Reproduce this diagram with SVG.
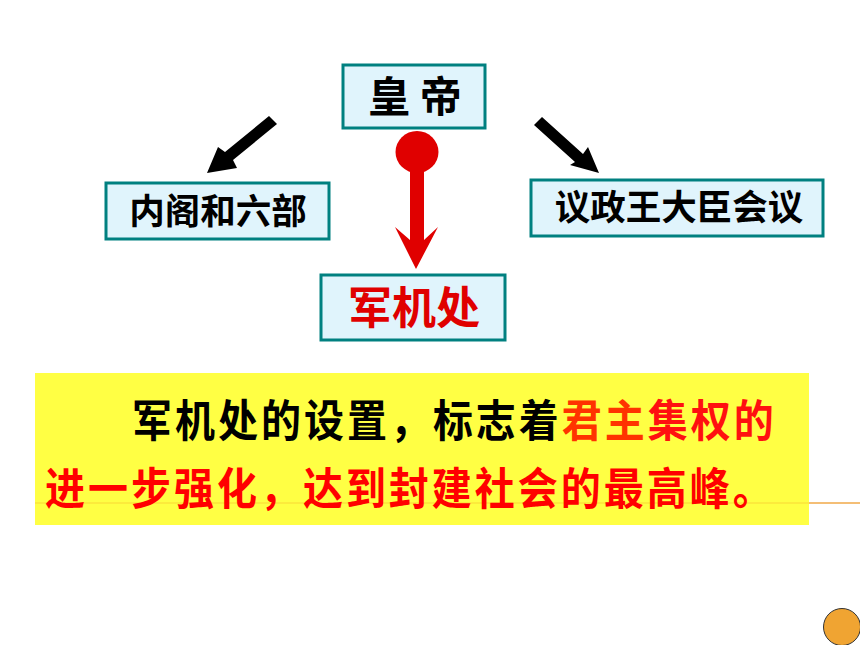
<svg xmlns="http://www.w3.org/2000/svg" width="860" height="645" viewBox="0 0 860 645">
<style>
.box{fill:#e0f4fc;stroke:#008080;stroke-width:3}
.t{font-family:"Noto Sans CJK SC","Noto Sans",sans-serif;font-weight:bold;text-anchor:middle}
.p{font-family:"Noto Sans CJK SC","Noto Sans",sans-serif;font-weight:bold;font-size:40px;letter-spacing:3px}
</style>
<rect width="860" height="645" fill="#ffffff"/>
<line x1="35" y1="503" x2="860" y2="503" stroke="#f0a848" stroke-width="1.5"/>
<rect x="35" y="373" width="774" height="152" fill="#ffff44"/>
<line x1="35" y1="503" x2="809" y2="503" stroke="#f8c830" stroke-width="1.2" opacity="0.7"/>
<g id="emperor">
<rect class="box" x="343" y="65" width="142" height="63"/>
<text class="t" x="415" y="112" font-size="42" fill="#000">皇 帝</text>
</g>
<g id="neige">
<rect class="box" x="106" y="183" width="223" height="56"/>
<text class="t" x="218" y="224" font-size="35.5" fill="#000">内阁和六部</text>
</g>
<g id="yizheng">
<rect class="box" x="531" y="180" width="292" height="56"/>
<text class="t" x="679" y="220" font-size="35.5" fill="#000">议政王大臣会议</text>
</g>
<g id="junjichu">
<rect class="box" x="321" y="275" width="184" height="65"/>
<text class="t" x="414" y="324" font-size="44" fill="#e00000">军机处</text>
</g>
<g id="connectors">
<polygon points="269,116 277,124 233,160 237,168 207,173 218,147 225,152" fill="#000"/>
<polygon points="542,117 534,125 575,162 570,165 599,173 588,147 583,154" fill="#000"/>
<ellipse cx="417" cy="152" rx="21.5" ry="21" fill="#e00000"/>
<polygon points="410,165 424,165 424,240 438,227 416,269 395,227 410,240" fill="#e00000"/>
</g>
<g id="conclusion">
<text class="p" x="132" y="437" transform="matrix(1,0,0,1.1,0,-43.7)"><tspan fill="#000">军机处的设置，标志着</tspan><tspan fill="#ff3300">君主</tspan><tspan fill="#ff1010">集权的</tspan></text>
<text class="p" x="45" y="505" fill="#ff0000" transform="matrix(1,0,0,1.1,0,-50.5)">进一步强化，达到封建社会的最高峰。</text>
</g>
<circle cx="842" cy="627" r="18.5" fill="#f0a432" stroke="#333" stroke-width="1"/>
</svg>
